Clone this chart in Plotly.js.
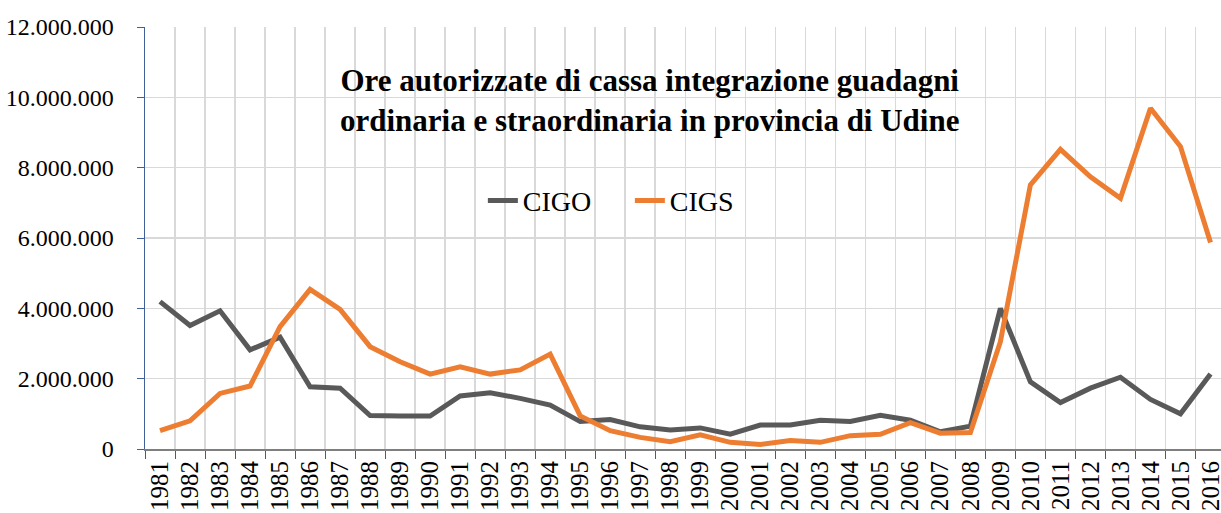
<!DOCTYPE html>
<html>
<head>
<meta charset="utf-8">
<script src="https://cdn.plot.ly/plotly-3.0.1.min.js"></script>
<style>html,body{margin:0;padding:0;background:#fff;}#chart{width:1221px;height:513px;}</style>
</head>
<body>
<div id="chart"></div>
<script>
const years = ["1981","1982","1983","1984","1985","1986","1987","1988","1989","1990","1991","1992","1993","1994","1995","1996","1997","1998","1999","2000","2001","2002","2003","2004","2005","2006","2007","2008","2009","2010","2011","2012","2013","2014","2015","2016"];
const cigo = [4190000,3510000,3930000,2820000,3180000,1770000,1730000,950000,940000,935000,1510000,1600000,1440000,1250000,780000,840000,630000,540000,600000,420000,680000,680000,820000,780000,960000,820000,490000,650000,4000000,1910000,1320000,1730000,2040000,1410000,1000000,2130000];
const cigs = [520000,800000,1580000,1790000,3480000,4540000,3970000,2910000,2480000,2130000,2340000,2130000,2250000,2700000,940000,520000,330000,210000,400000,190000,130000,240000,190000,380000,420000,750000,450000,470000,3050000,7510000,8520000,7740000,7130000,9690000,8600000,5870000];
const yTicks = [0,2000000,4000000,6000000,8000000,10000000,12000000];
const yTickText = ["0","2.000.000","4.000.000","6.000.000","8.000.000","10.000.000","12.000.000"];
const titleText = "Ore autorizzate di cassa integrazione guadagni<br>ordinaria e straordinaria in provincia di Udine";

const font = "Liberation Serif, serif";
const traces = [
  {x: years, y: cigo, name: "CIGO", type: "scatter", mode: "lines", line: {color: "#595959", width: 5}},
  {x: years, y: cigs, name: "CIGS", type: "scatter", mode: "lines", line: {color: "#ED7D31", width: 5}}
];
const layout = {
  width: 1221, height: 513,
  margin: {l: 145, r: 0, t: 27, b: 64, pad: 0},
  paper_bgcolor: "#fff", plot_bgcolor: "#fff",
  font: {family: font, size: 24, color: "#000"},
  showlegend: true,
  legend: {orientation: "h", x: 0.314, y: 0.588, xanchor: "left", yanchor: "middle",
           font: {family: font, size: 28, color: "#000"}, bgcolor: "rgba(0,0,0,0)", itemwidth: 30,
           entrywidth: 102, entrywidthmode: "pixels", tracegroupgap: 0},
  xaxis: {type: "category", range: [-0.5, 35.35], tickson: "boundaries", showgrid: true, gridcolor: "#d9d9d9", gridwidth: 1.5,
          ticks: "outside", ticklen: 8, tickcolor: "#595959", showline: true, linecolor: "#7f7f7f", linewidth: 2,
          tickangle: -90, tickfont: {family: font, size: 25, color: "#000"}, fixedrange: true, zeroline: false},
  yaxis: {range: [0, 12000000], tickvals: yTicks, ticktext: yTickText, showgrid: true, gridcolor: "#d9d9d9", gridwidth: 1.5,
          ticks: "outside", ticklen: 7, tickcolor: "#41609a", showline: true, linecolor: "#41609a", linewidth: 1.5,
          tickfont: {family: font, size: 24, color: "#000"}, ticklabelstandoff: 18, zeroline: false, fixedrange: true},
  annotations: [{text: "<b>" + titleText + "</b>", xref: "paper", yref: "paper", x: 0.469, y: 0.827,
                 xanchor: "center", yanchor: "middle", showarrow: false, align: "center",
                 font: {family: font, size: 31, color: "#000"}}]
};
Plotly.newPlot("chart", traces, layout, {staticPlot: true, displayModeBar: false});
</script>
</body>
</html>
